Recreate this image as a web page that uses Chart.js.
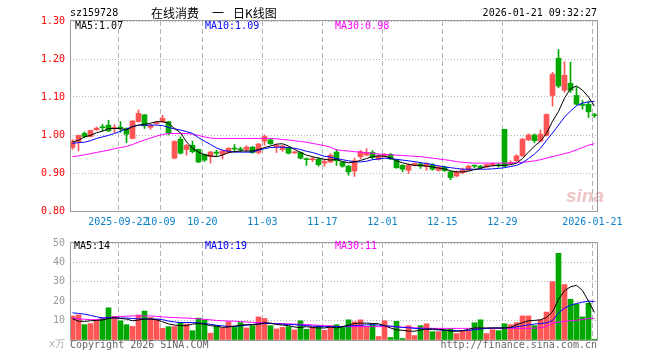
<!DOCTYPE html>
<html>
<head>
<meta charset="utf-8">
<script src="https://cdn.jsdelivr.net/npm/chart.js@4.4.1/dist/chart.umd.min.js"></script>
<style>
body{margin:0;background:#fff;}
#wrap{position:relative;width:660px;height:360px;overflow:hidden;background:#fff;}
canvas{position:absolute;left:0;}
.t{position:absolute;font:10px "DejaVu Sans Mono",monospace;line-height:10px;white-space:pre;}
.c{position:absolute;top:6px;font:12px "Noto Sans CJK SC";line-height:14px;color:#000;white-space:pre;}
</style>
</head>
<body>
<div id="wrap">
<canvas id="k" width="660" height="232" style="top:0"></canvas>
<canvas id="v" width="660" height="128" style="top:232px"></canvas>
<div class="t" style="left:70px;top:8px;color:#000">sz159728</div>
<div class="c" style="left:151px">在线消费</div>
<div class="c" style="left:212px">一</div>
<div class="c" style="left:233px">日K线图</div>
<div class="t" style="right:63px;top:8px;color:#000">2026-01-21 09:32:27</div>
<div class="t" style="left:75px;top:21px;color:#000">MA5:1.07</div>
<div class="t" style="left:205px;top:21px;color:#0000ff">MA10:1.09</div>
<div class="t" style="left:335px;top:21px;color:#ff00ff">MA30:0.98</div>
<div class="t" style="left:74px;top:241px;color:#000">MA5:14</div>
<div class="t" style="left:205px;top:241px;color:#0000ff">MA10:19</div>
<div class="t" style="left:335px;top:241px;color:#ff00ff">MA30:11</div>
<div class="t" style="left:49px;top:339px;color:#aaa">x万</div>
<div class="t" style="left:70px;top:340px;color:#666">Copyright 2026 SINA.COM</div>
<div class="t" style="right:63px;top:340px;color:#666">http://finance.sina.com.cn</div>
<div class="t" style="left:566px;top:186px;font:italic bold 19px 'Liberation Sans';line-height:20px;color:rgba(210,90,90,0.35)">sina</div>
</div>
<script>
// trading days shown (2025-09-10 .. 2026-01-21)
const dates=["09-10","09-11","09-12","09-15","09-16","09-17","09-18","09-19",
"09-22","09-23","09-24","09-25","09-26","09-29","09-30",
"10-09","10-10","10-13","10-14","10-15","10-16","10-17","10-20","10-21","10-22","10-23","10-24",
"10-27","10-28","10-29","10-30","10-31","11-03","11-04","11-05","11-06","11-07",
"11-10","11-11","11-12","11-13","11-14","11-17","11-18","11-19","11-20","11-21",
"11-24","11-25","11-26","11-27","11-28","12-01","12-02","12-03","12-04","12-05",
"12-08","12-09","12-10","12-11","12-12","12-15","12-16","12-17","12-18","12-19",
"12-22","12-23","12-24","12-25","12-26","12-29","12-30","12-31",
"01-05","01-06","01-07","01-08","01-09","01-12","01-13","01-14","01-15","01-16","01-19","01-20","01-21"];

const tickDates=["09-22","10-09","10-20","11-03","11-17","12-01","12-15","12-29","01-21"];
const tickLabels=["2025-09-22","10-09","10-20","11-03","11-17","12-01","12-15","12-29","2026-01-21"];
const priceTicks=[0.8,0.9,1.0,1.1,1.2,1.3];
const volTicks=[0,10,20,30,40,50];

const opens=[0.967,0.983,1.004,0.996,1.014,1.021,1.026,1.017,1.020,1.017,0.991,1.035,1.053,1.020,1.030,1.035,1.035,0.939,0.989,0.962,
0.973,0.962,0.949,0.943,0.955,0.949,0.954,0.965,0.963,0.962,0.968,0.954,0.984,0.987,0.969,0.962,0.967,0.953,0.954,0.937,
0.935,0.936,0.926,0.929,0.955,0.929,0.918,0.905,0.943,0.947,0.954,0.936,0.944,0.949,0.934,0.920,0.907,0.921,0.924,0.917,
0.921,0.907,0.916,0.903,0.892,0.901,0.907,0.920,0.918,0.916,0.920,0.921,1.015,0.925,0.932,0.945,0.987,1.000,0.984,0.999,
1.104,1.202,1.118,1.136,1.104,1.081,1.081,1.053];
const highs=[0.988,1.000,1.008,1.013,1.021,1.028,1.039,1.027,1.035,1.019,1.038,1.066,1.054,1.028,1.036,1.052,1.036,0.985,0.995,0.975,
0.984,0.963,0.950,0.957,0.960,0.960,0.967,0.975,0.968,0.972,0.970,0.978,1.000,0.990,0.975,0.973,0.968,0.957,0.956,0.940,
0.942,0.941,0.936,0.951,0.962,0.930,0.920,0.939,0.960,0.964,0.959,0.948,0.951,0.952,0.936,0.922,0.924,0.927,0.928,0.927,
0.925,0.918,0.918,0.905,0.906,0.913,0.921,0.921,0.920,0.924,0.927,0.926,1.015,0.932,0.948,0.991,1.003,1.003,1.013,1.056,
1.165,1.225,1.193,1.192,1.126,1.091,1.089,1.057];
const lows=[0.962,0.958,0.993,0.995,1.012,1.011,1.009,1.006,1.007,0.980,0.990,1.034,1.017,1.015,1.028,1.033,1.000,0.937,0.950,0.947,
0.953,0.927,0.930,0.926,0.945,0.937,0.952,0.956,0.955,0.955,0.952,0.950,0.973,0.975,0.954,0.957,0.950,0.951,0.937,0.920,
0.930,0.918,0.918,0.927,0.920,0.915,0.894,0.891,0.937,0.945,0.936,0.934,0.942,0.935,0.912,0.903,0.899,0.918,0.912,0.907,
0.907,0.905,0.904,0.882,0.890,0.898,0.906,0.914,0.912,0.914,0.918,0.915,0.916,0.923,0.930,0.944,0.985,0.980,0.982,0.997,
1.076,1.124,1.112,1.112,1.079,1.068,1.046,1.046];
const closes=[0.983,0.999,0.996,1.012,1.018,1.019,1.011,1.020,1.018,1.002,1.037,1.057,1.024,1.025,1.033,1.044,1.006,0.983,0.952,0.973,
0.956,0.929,0.934,0.955,0.952,0.958,0.965,0.963,0.961,0.968,0.954,0.976,0.996,0.977,0.973,0.971,0.952,0.955,0.939,0.935,
0.938,0.922,0.930,0.947,0.932,0.918,0.903,0.932,0.956,0.954,0.941,0.945,0.949,0.937,0.914,0.910,0.921,0.925,0.918,0.925,
0.910,0.916,0.906,0.888,0.903,0.908,0.918,0.918,0.914,0.922,0.925,0.919,0.918,0.928,0.945,0.989,1.000,0.985,1.002,1.054,
1.160,1.129,1.157,1.118,1.081,1.078,1.061,1.051];

const ma5=[0.982,0.986,0.995,0.999,1.006,1.010,1.017,1.017,1.017,1.013,1.022,1.026,1.028,1.031,1.035,1.035,1.031,1.017,1.006,0.982,
0.965,0.955,0.948,0.945,0.943,0.947,0.954,0.956,0.958,0.958,0.958,0.962,0.967,0.971,0.976,0.977,0.971,0.962,0.954,0.947,
0.943,0.939,0.936,0.934,0.936,0.930,0.927,0.929,0.933,0.938,0.943,0.945,0.944,0.940,0.932,0.927,0.923,0.920,0.920,0.918,
0.916,0.913,0.911,0.906,0.903,0.903,0.905,0.909,0.912,0.917,0.919,0.920,0.920,0.922,0.926,0.938,0.955,0.971,0.984,1.004,
1.036,1.062,1.097,1.122,1.129,1.118,1.100,1.076];
const ma10=[0.978,0.980,0.981,0.985,0.991,0.995,0.999,1.004,1.010,1.016,1.022,1.026,1.026,1.026,1.026,1.025,1.020,1.016,1.013,1.009,
1.004,0.993,0.984,0.975,0.966,0.960,0.957,0.955,0.955,0.955,0.955,0.960,0.964,0.967,0.968,0.968,0.967,0.965,0.962,0.957,
0.954,0.949,0.944,0.942,0.938,0.935,0.932,0.930,0.929,0.931,0.935,0.937,0.939,0.938,0.936,0.934,0.932,0.930,0.927,0.925,
0.922,0.919,0.916,0.914,0.912,0.910,0.910,0.910,0.910,0.910,0.911,0.912,0.914,0.917,0.920,0.927,0.938,0.950,0.965,0.986,
1.005,1.026,1.047,1.063,1.077,1.084,1.087,1.089];
const ma30=[0.943,0.945,0.948,0.951,0.954,0.957,0.960,0.964,0.967,0.970,0.975,0.981,0.987,0.992,0.997,1.001,1.004,1.004,1.004,1.004,
1.002,0.999,0.995,0.992,0.991,0.991,0.991,0.991,0.991,0.991,0.991,0.991,0.991,0.991,0.990,0.988,0.987,0.985,0.983,0.981,
0.978,0.975,0.972,0.968,0.961,0.959,0.958,0.956,0.955,0.953,0.952,0.950,0.949,0.948,0.947,0.946,0.945,0.944,0.943,0.941,
0.939,0.937,0.935,0.933,0.930,0.928,0.927,0.926,0.926,0.926,0.926,0.926,0.926,0.926,0.927,0.928,0.930,0.932,0.935,0.939,
0.943,0.947,0.951,0.955,0.961,0.967,0.973,0.977];

const vols=[12.4,12.9,7.9,8.5,10.4,11.3,16.6,12.1,9.9,7.9,7.0,12.9,14.9,11.6,10.8,6.0,6.9,6.9,9.0,8.2,
4.8,11.3,10.3,3.5,7.4,6.2,9.4,6.5,9.0,6.2,7.4,11.9,11.1,7.4,5.7,6.5,6.9,5.2,9.9,5.5,
6.9,7.4,5.0,7.4,7.9,6.9,10.4,9.4,10.4,6.9,7.9,1.8,9.9,1.3,9.6,0.8,7.4,2.3,7.4,8.4,
4.3,4.3,5.3,5.8,3.3,4.8,4.8,8.9,10.4,3.3,5.3,4.8,8.4,7.9,8.9,12.4,12.4,7.4,10.4,14.4,
30.1,44.7,28.6,21.0,18.5,11.9,19.0,0.4];
const volMa5=[11.0,9.7,9.6,9.9,10.1,10.3,11.1,11.6,11.1,10.8,9.9,10.3,10.8,10.8,10.4,9.4,8.3,7.7,7.4,7.4,
8.2,8.5,8.2,7.4,7.1,6.5,6.7,7.2,7.6,7.9,7.9,8.2,8.9,8.7,8.0,7.7,7.4,6.7,6.4,6.9,
6.4,6.2,6.2,6.7,6.2,6.9,7.7,8.5,8.7,8.7,8.5,8.4,7.4,6.2,5.2,5.0,4.6,4.5,5.2,5.7,
5.7,5.5,5.2,4.6,4.5,4.8,5.5,6.2,6.2,6.2,6.2,6.2,6.2,6.5,7.9,8.9,9.9,10.1,10.4,11.6,
14.5,21.0,25.4,27.4,28.2,25.5,20.0,14.2];
const volMa10=[14.0,13.7,13.3,12.7,12.0,11.4,11.5,11.3,11.3,11.3,11.1,10.9,10.8,10.8,10.8,10.5,9.8,9.3,9.0,9.0,
9.0,8.8,8.4,8.1,7.6,7.3,7.0,7.0,7.3,7.6,8.0,8.3,8.5,8.5,8.3,8.2,8.0,7.9,7.6,7.4,
7.2,6.9,6.9,6.9,6.9,6.9,7.2,7.4,7.6,7.8,7.9,7.7,7.4,7.2,6.8,6.5,6.3,6.0,5.8,5.6,
5.4,5.2,5.0,4.9,4.8,4.8,4.9,5.3,5.7,6.0,6.2,6.2,6.2,6.4,6.8,7.3,7.8,8.2,8.5,8.8,
10.0,14.0,16.4,17.9,18.8,19.5,20.1,19.8];
const volMa30=[11.3,10.9,10.7,10.5,10.4,11.0,11.6,11.9,12.1,12.3,12.4,12.4,12.4,12.4,12.2,11.9,11.7,11.6,11.4,11.3,
11.1,10.9,10.6,10.4,10.1,9.9,9.8,9.7,9.5,9.3,9.1,9.0,8.8,8.6,8.5,8.4,8.3,8.2,8.1,8.0,
7.8,7.6,7.4,7.2,7.0,6.9,6.9,6.9,6.9,6.9,6.9,6.9,6.9,6.9,6.8,6.6,6.5,6.3,6.2,6.1,
6.0,6.0,6.0,6.0,6.0,6.0,6.0,6.0,6.0,6.0,6.0,6.0,6.0,6.0,6.0,6.0,6.0,6.1,6.3,7.0,
8.8,9.2,9.6,9.9,10.2,10.5,11.1,11.2];

const RED="#ff5555", GREEN="#00a800", GRIDC="#b4b4b4", FRAME="#999999";
const MONO={family:"DejaVu Sans Mono",size:10};
const idx=dates.map((d,i)=>i);
const barColors=idx.map(i=>closes[i]>=opens[i]?RED:GREEN);
const tickIdx=tickDates.map(d=>dates.indexOf(d));
const pts=arr=>arr.map((v,i)=>({x:i,y:v}));

const framePlugin={
  id:"frame",
  afterDraw(c){
    const a=c.chartArea, ctx=c.ctx;
    ctx.save();
    ctx.strokeStyle=FRAME;
    ctx.lineWidth=1;
    ctx.strokeRect(a.left+0.5,a.top-0.5,a.right-a.left-1,a.bottom-a.top+1);
    ctx.restore();
  }
};

function xScale(showLabels,h){
  return {
    type:"linear", min:-5/12, max:87+7/12, offset:false,
    afterBuildTicks:s=>{s.ticks=tickIdx.map(i=>({value:i-0.35}));},
    afterFit:s=>{s.height=h;},
    grid:{color:GRIDC,drawTicks:false,offset:false},
    border:{display:false,dash:[5,3]},
    ticks:{display:showLabels,autoSkip:false,maxRotation:0,padding:5,color:"#0b80c8",font:MONO,
      callback:(v,i)=>tickLabels[i]}
  };
}
function maLine(data,color){
  return {type:"line",data:pts(data),borderColor:color,borderWidth:1,pointRadius:0,tension:0,order:0};
}

new Chart(document.getElementById("k"),{
  type:"bar",
  data:{datasets:[
    maLine(ma5,"#000000"),
    maLine(ma10,"#0000ff"),
    maLine(ma30,"#ff00ff"),
    {data:idx.map(i=>({x:i,y:[lows[i],highs[i]]})),backgroundColor:barColors,barThickness:1,grouped:false,order:2},
    {data:idx.map(i=>({x:i,y:[opens[i],closes[i]]})),backgroundColor:barColors,barThickness:5,minBarLength:1,grouped:false,order:1}
  ]},
  options:{
    responsive:false,animation:false,events:[],
    layout:{padding:{top:21,right:62,left:0,bottom:0}},
    plugins:{legend:{display:false},tooltip:{enabled:false}},
    scales:{
      x:xScale(true,21),
      y:{min:0.8,max:1.3,
        afterBuildTicks:s=>{s.ticks=priceTicks.map(v=>({value:v}));},
        afterFit:s=>{s.width=70;},
        grid:{color:GRIDC,drawTicks:false},
        border:{display:false,dash:[1,2]},
        ticks:{color:"#ff0000",padding:5,font:MONO,callback:v=>v.toFixed(2)}}
    }
  },
  plugins:[framePlugin]
});

new Chart(document.getElementById("v"),{
  type:"bar",
  data:{datasets:[
    maLine(volMa5,"#000000"),
    maLine(volMa10,"#0000ff"),
    maLine(volMa30,"#ff00ff"),
    {data:idx.map(i=>({x:i,y:vols[i]})),backgroundColor:barColors,barThickness:5,grouped:false,order:1}
  ]},
  options:{
    responsive:false,animation:false,events:[],
    layout:{padding:{top:9,right:62,left:0,bottom:0}},
    plugins:{legend:{display:false},tooltip:{enabled:false}},
    scales:{
      x:xScale(false,20),
      y:{min:0,max:50,
        afterBuildTicks:s=>{s.ticks=volTicks.map(v=>({value:v}));},
        afterFit:s=>{s.width=70;},
        grid:{color:GRIDC,drawTicks:false},
        border:{display:false,dash:[1,2]},
        ticks:{color:"#999999",padding:5,font:MONO,callback:v=>v===0?"":String(v)}}
    }
  },
  plugins:[framePlugin]
});
</script>
</body>
</html>
